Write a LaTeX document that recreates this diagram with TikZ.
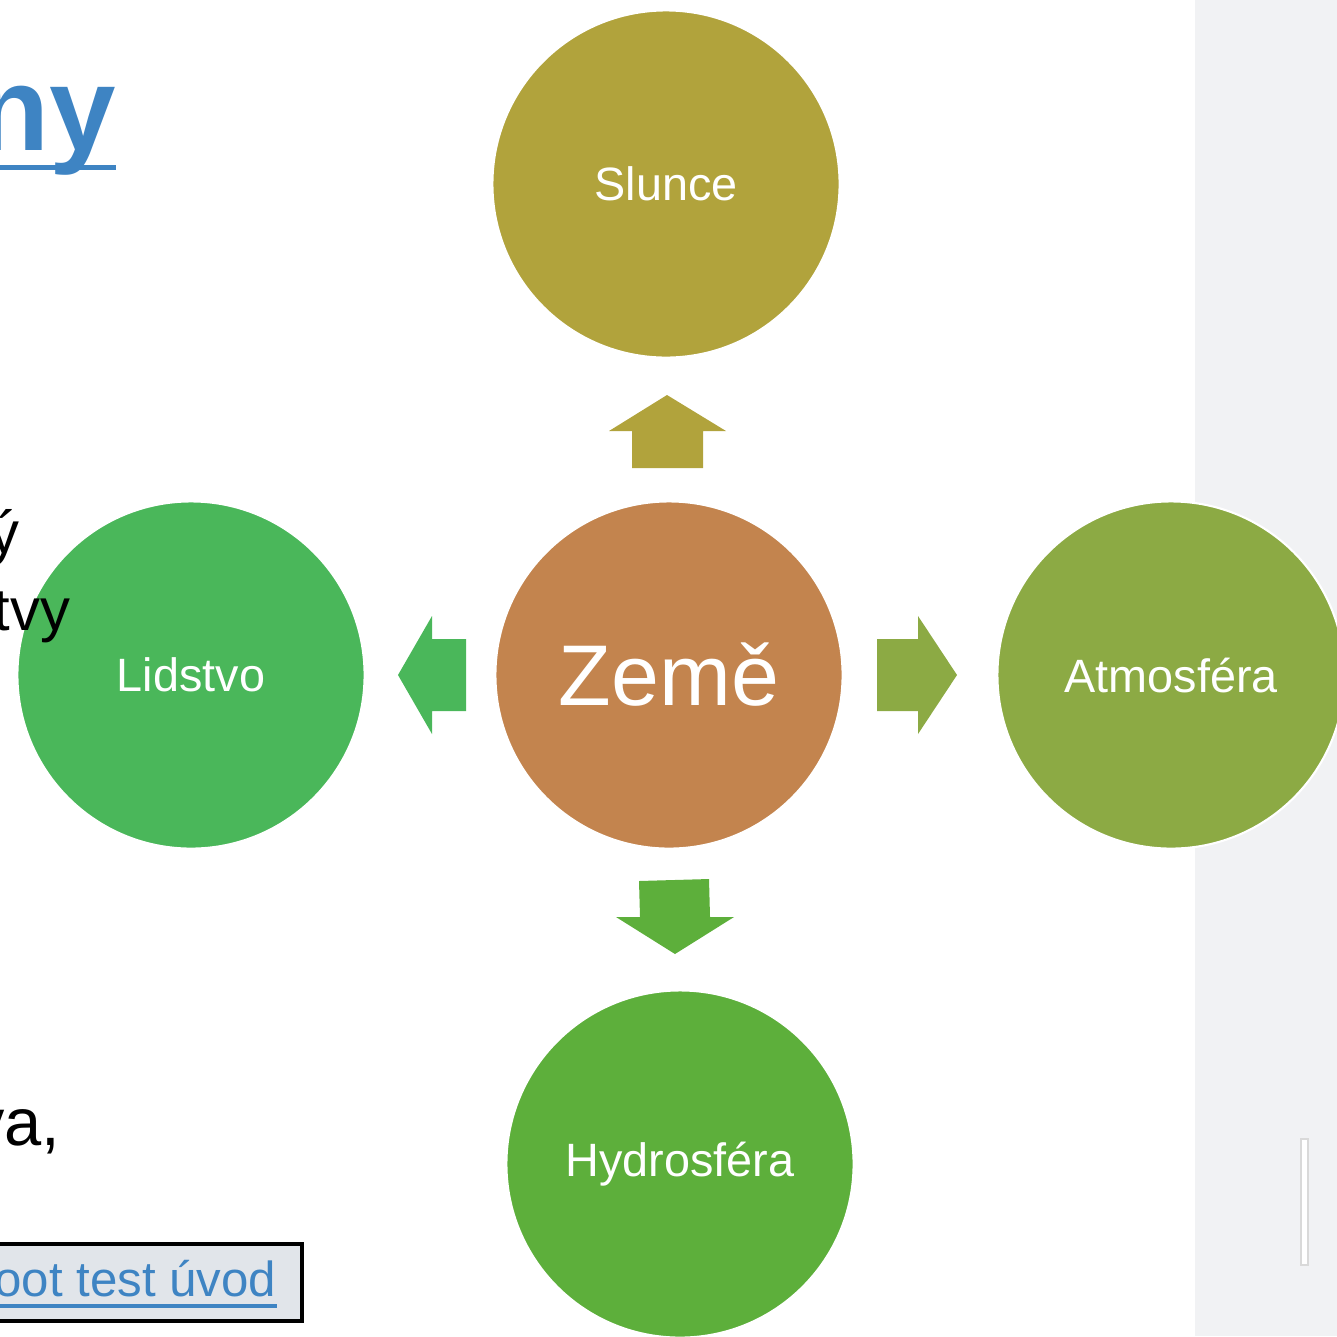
\documentclass[tikz,border=0pt]{standalone}
\usepackage{fontspec}
\setmainfont{Liberation Sans}
\definecolor{slun}{HTML}{B1A33C}
\definecolor{zeme}{HTML}{C3844E}
\definecolor{lid}{HTML}{4AB75A}
\definecolor{atm}{HTML}{8CAA44}
\definecolor{hyd}{HTML}{5DAF3B}
\definecolor{panel}{HTML}{F1F2F4}
\definecolor{btn}{HTML}{E1E5EA}
\definecolor{linkblue}{HTML}{3E84C3}
\begin{document}
\begin{tikzpicture}[x=0.01cm,y=-0.01cm,
  ball/.style={circle, minimum size=3.47cm, inner sep=0pt, draw=white, line width=0.6pt, text=white, font=\fontsize{13.3}{16}\selectfont},
  blk/.style={text=black, font=\fontsize{17}{20}\selectfont, inner sep=0pt}]
\useasboundingbox (0,0) rectangle (1337,1336);
\clip (0,0) rectangle (1337,1336);
% right panel
\fill[panel] (1195,0) rectangle (1337,1336);
\fill[white, draw=black!15, line width=0.4pt] (1301,1139) rectangle (1308,1265);
% title fragment
\node[anchor=base east, inner sep=0pt, text=linkblue, font=\bfseries\fontsize{34}{36}\selectfont] (title) at (117,150) {ny};
\fill[linkblue] (0,165) rectangle (116,170);
% circles
\node[ball, fill=slun] (slunce) at (666,184) {Slunce};
\node[ball, fill=zeme, font=\fontsize{24.5}{28}\selectfont] (zeme) at (669,675) {Země};
\node[ball, fill=lid] (lidstvo) at (191,675) {Lidstvo};
\node[ball, fill=atm] (atmos) at (1171,675) {Atmosféra};
\node[ball, fill=hyd] (hydro) at (680,1164) {Hydrosféra};
% block arrows
\fill[slun] (632,468) -- (632,431) -- (609,431) -- (667,395) -- (726,431) -- (703,431) -- (703,468) -- cycle;
\fill[lid] (466,639) -- (432,639) -- (432,616) -- (398,675) -- (432,734) -- (432,711) -- (466,711) -- cycle;
\fill[atm] (877,639) -- (918,639) -- (918,616) -- (957,675) -- (918,734) -- (918,711) -- (877,711) -- cycle;
\fill[hyd] (639,881) -- (709,879) -- (710,917) -- (734,917) -- (675,954) -- (616,917) -- (640,917) -- cycle;
% left text fragments
\node[blk, anchor=base east] (t1) at (20,553) {ý};
\node[blk, anchor=base east] (t2) at (71,630) {tvy};
\node[anchor=base east, inner sep=0pt, font=\fontsize{19}{22}\selectfont] (t3) at (61,1145) {va,};
% button
\draw[fill=btn, line width=1pt] (-10,1244) rectangle (302,1321);
\node[anchor=base east, inner sep=0pt, text=linkblue, font=\fontsize{14}{17}\selectfont] (btntext) at (277,1296) {hoot test úvod};
\fill[linkblue] (0,1304) rectangle (277,1307.5);
\end{tikzpicture}
\end{document}
